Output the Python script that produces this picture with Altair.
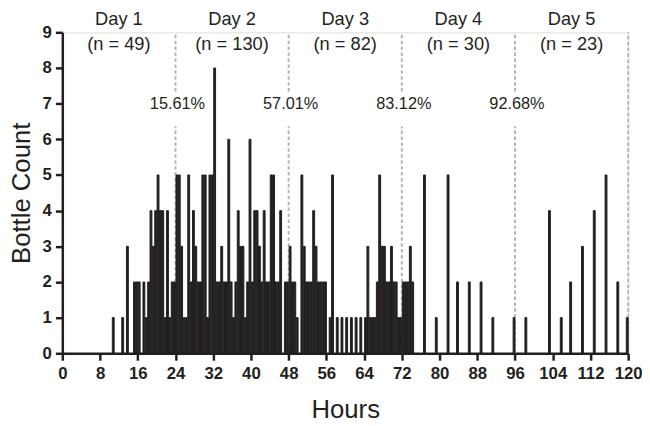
import altair as alt
import pandas as pd

# Half-hour bins: start hour of each bin and bottle count in it
bin_start = [
    10.5, 12.5, 13.5, 15, 15.5, 16, 17, 17.5, 18, 18.5, 19, 19.5, 20, 20.5, 21, 21.5, 22, 22.5, 23, 23.5,
    24, 24.5, 25, 25.5, 26, 26.5, 27, 27.5, 28, 28.5, 29, 29.5, 30, 30.5, 31, 31.5, 32, 32.5, 33, 33.5,
    34, 34.5, 35, 35.5, 36, 36.5, 37, 37.5, 38, 38.5, 39, 39.5, 40, 40.5, 41, 41.5, 42, 42.5, 43, 43.5,
    44, 44.5, 45, 45.5, 46, 47, 47.5,
    48, 48.5, 49, 49.5, 50.5, 51, 51.5, 52, 52.5, 53, 53.5, 54, 54.5, 55, 55.5, 56.5, 57,
    58, 59, 60, 61, 62, 63, 64, 64.5, 65, 65.5, 66, 66.5, 67, 67.5, 68, 68.5, 69, 69.5, 70, 70.5, 71, 71.5,
    72, 72.5, 73, 73.5, 74, 76.5, 79, 81.5, 83.5, 86, 88.5, 91, 95.5,
    98, 103, 105.5, 107.5, 110, 112.5, 115, 117.5, 119.5,
]
bottle_count = [
    1, 1, 3, 2, 2, 2, 2, 1, 2, 4, 3, 4, 5, 4, 4, 1, 4, 1, 2, 2,
    5, 5, 3, 1, 1, 5, 2, 4, 3, 2, 2, 5, 5, 1, 5, 5, 8, 2, 2, 3,
    2, 2, 6, 2, 1, 2, 4, 3, 3, 1, 2, 6, 2, 4, 4, 3, 2, 4, 2, 2,
    5, 5, 2, 2, 4, 2, 2,
    3, 2, 2, 1, 5, 3, 2, 2, 2, 4, 3, 2, 2, 2, 2, 1, 5,
    1, 1, 1, 1, 1, 1, 1, 3, 1, 1, 1, 2, 5, 3, 3, 2, 2, 3, 2, 2, 1, 1,
    2, 2, 2, 3, 2, 5, 1, 5, 2, 2, 2, 1, 1,
    1, 4, 1, 2, 3, 4, 5, 2, 1,
]

day_labels = ["Day 1", "Day 2", "Day 3", "Day 4", "Day 5"]
day_n = ["(n = 49)", "(n = 130)", "(n = 82)", "(n = 30)", "(n = 23)"]
day_mid = [12, 36, 60, 84, 108]
boundary_hours = [24, 48, 72, 96, 120]
cum_pct = ["15.61%", "57.01%", "83.12%", "92.68%"]

FONT = "Liberation Sans, Arial, Helvetica, sans-serif"
INK = "#231f20"
GRAY = "#b3b5b8"

bars_df = pd.DataFrame({"start": bin_start, "count": bottle_count})
days_df = pd.DataFrame({"mid": day_mid, "day": day_labels, "n": day_n})
bound_df = pd.DataFrame({"hour": boundary_hours})
pct_df = pd.DataFrame({"hour": boundary_hours[:4], "pct": cum_pct})

xs = alt.Scale(domain=[0, 120], nice=False, zero=False)
ys = alt.Scale(domain=[0, 9], nice=False)

x_axis = alt.Axis(values=list(range(0, 121, 8)), title="Hours", labelFont=FONT, labelFontSize=17,
                  labelFontWeight="bold", labelColor=INK, tickSize=7, tickWidth=2.5, tickColor=INK,
                  domainWidth=2.5, domainColor=INK, labelPadding=6, titleFont=FONT, titleFontSize=26,
                  titleFontWeight="normal", titleColor=INK, titleY=57, titleBaseline="middle",
                  grid=False, labelFlush=False, labelOverlap=False)
y_axis = alt.Axis(values=list(range(0, 10)), title="Bottle Count", labelFont=FONT, labelFontSize=17,
                  labelFontWeight="bold", labelColor=INK, tickSize=7, tickWidth=2.5, tickColor=INK,
                  domainWidth=2.5, domainColor=INK, labelPadding=4, titleFont=FONT, titleFontSize=26,
                  titleFontWeight="normal", titleColor=INK, titleAngle=-90, titleX=-41, titleY=162.5,
                  titleAlign="center", titleBaseline="middle", grid=False, labelOverlap=False)

dash = dict(color=GRAY, strokeWidth=2, strokeDash=[3.5, 2.5])

rule_low = alt.Chart(bound_df).transform_calculate(
    ybot="0", ytop="datum.hour < 120 ? 6.37 : 9"
).mark_rule(**dash).encode(
    x=alt.X("hour:Q", scale=xs, axis=x_axis),
    y=alt.Y("ybot:Q", scale=ys, axis=y_axis),
    y2="ytop:Q",
)
rule_high = alt.Chart(bound_df).transform_filter("datum.hour < 120").transform_calculate(
    ybot="7.34", ytop="9"
).mark_rule(**dash).encode(
    x=alt.X("hour:Q", scale=xs, axis=x_axis),
    y=alt.Y("ybot:Q", scale=ys, axis=y_axis),
    y2="ytop:Q",
)

bars = alt.Chart(bars_df).transform_calculate(end="datum.start + 0.5", base="0").mark_rect(
    fill=INK, stroke=INK, strokeWidth=1.0, xOffset=0.5
).encode(
    x=alt.X("start:Q", scale=xs, axis=x_axis),
    x2="end:Q",
    y=alt.Y("count:Q", scale=ys, axis=y_axis),
    y2="base:Q",
)

day_text = alt.Chart(days_df).mark_text(font=FONT, fontSize=18.5, color=INK, baseline="middle").encode(
    x=alt.X("mid:Q", scale=xs, axis=x_axis), y=alt.value(-13), text="day:N"
)
n_text = alt.Chart(days_df).mark_text(font=FONT, fontSize=18.5, color=INK, baseline="middle").encode(
    x=alt.X("mid:Q", scale=xs, axis=x_axis), y=alt.value(12), text="n:N"
)
pct_text = alt.Chart(pct_df).mark_text(font=FONT, fontSize=16.5, color=INK, baseline="middle", dx=2).encode(
    x=alt.X("hour:Q", scale=xs, axis=x_axis), y=alt.value(73), text="pct:N"
)

chart = alt.layer(rule_low, rule_high, bars, day_text, n_text, pct_text).properties(
    width=573, height=325,
    padding={"left": 55, "top": 22, "right": 14, "bottom": 72},
    autosize="none",
).configure_view(stroke=None).configure_axis(labelOverlap=False).configure(background="white")

chart.save("out.html", embed_options={"renderer": "svg", "actions": False})
